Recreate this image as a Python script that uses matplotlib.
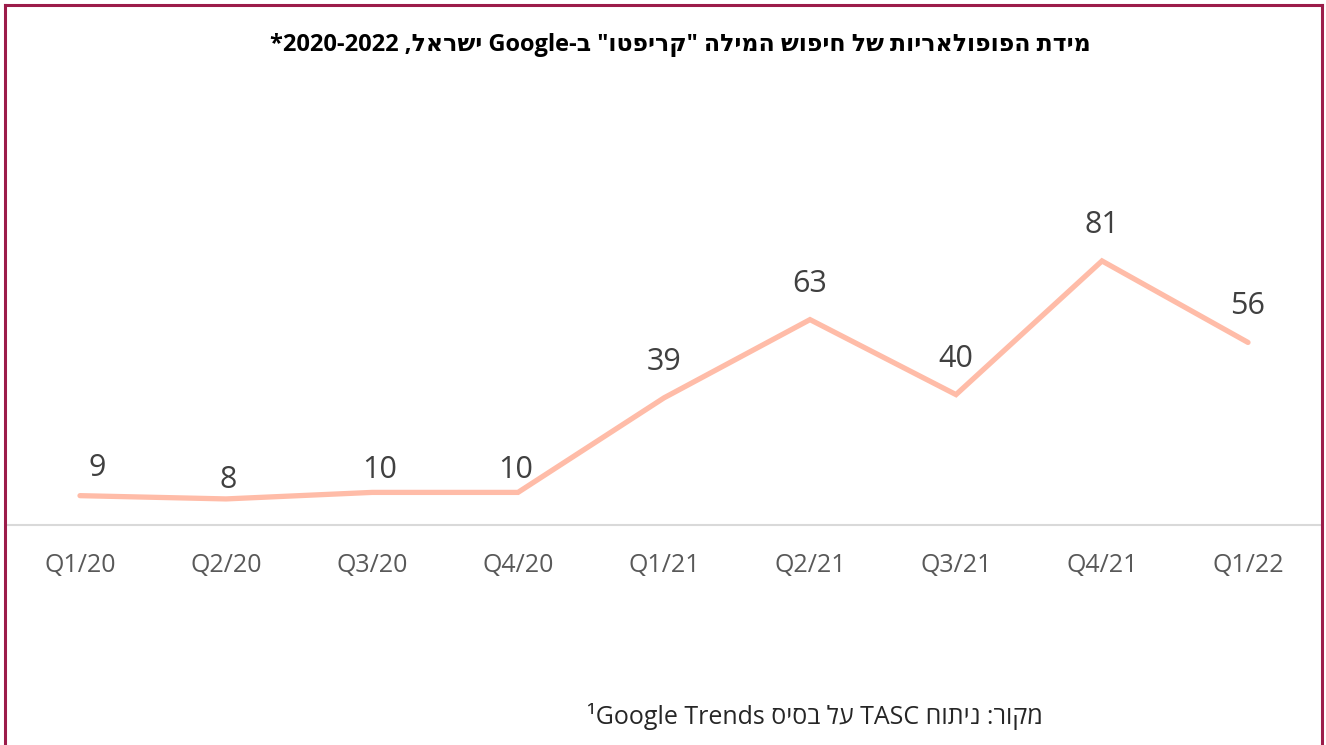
import matplotlib
matplotlib.use("Agg")
import matplotlib.pyplot as plt
from matplotlib.lines import Line2D

# data
quarters = ["Q1/20", "Q2/20", "Q3/20", "Q4/20", "Q1/21", "Q2/21", "Q3/21", "Q4/21", "Q1/22"]
popularity = [9, 8, 10, 10, 39, 63, 40, 81, 56]

# hebrew strings written in visual (left-to-right) order, since matplotlib has no bidi
title = '*2020-2022 ,לארשי Google-ב "וטפירק" הלימה שופיח לש תויראלופופה תדימ'
source = "¹Google Trends סיסב לע TASC חותינ :רוקמ"

fonts = ["Open Sans", "DejaVu Sans"]
plt.rcParams["font.family"] = fonts

W, H = 1326, 745
fig = plt.figure(figsize=(W / 100, H / 100), dpi=100)
ax = fig.add_axes([7 / W, (H - 525) / H, (1321 - 7) / W, (525 - 199) / H])

x = list(range(len(quarters)))
ax.plot(x, popularity, color="#ffbca8", lw=3.8, solid_capstyle="round", solid_joinstyle="miter")

# label offsets in pixels (dx, dy)
label_off = [(17, 28), (2, 19), (8, 22), (-2, 22), (0, 36), (0, 36), (0, 36), (0, 36), (0, 36)]
for i, v in enumerate(popularity):
    ax.annotate(str(v), (i, v), xytext=label_off[i], textcoords="offset pixels",
                ha="center", va="center", fontsize=22, color="#404040")

ax.set_xlim(-0.5, len(quarters) - 0.5)
ax.set_ylim(0, 100)
ax.set_xticks(x)
ax.set_xticklabels(quarters, fontsize=18, color="#595959")
ax.tick_params(axis="x", length=0, pad=20)
ax.set_yticks([])
for s in ["top", "right", "left"]:
    ax.spines[s].set_visible(False)
ax.spines["bottom"].set_color("#d9d9d9")
ax.spines["bottom"].set_linewidth(1.5)
ax.patch.set_alpha(0)

fig.text(680 / W, 1 - 45 / H, title, ha="center", va="center", fontsize=17,
         fontweight="bold", color="black")
fig.text(815 / W, 1 - 716 / H, source, ha="center", va="center", fontsize=18,
         color="#262626")

# frame (left, top, right)
bc = "#9c1c4a"
fig.add_artist(Line2D([4.5 / W, 4.5 / W], [0, 1 - 4.5 / H], color=bc, lw=2.2))
fig.add_artist(Line2D([4.5 / W, 1321.5 / W], [1 - 4.5 / H, 1 - 4.5 / H], color=bc, lw=2.2))
fig.add_artist(Line2D([1321.5 / W, 1321.5 / W], [0, 1 - 4.5 / H], color=bc, lw=2.2))

fig.savefig("out.png", dpi=100)
